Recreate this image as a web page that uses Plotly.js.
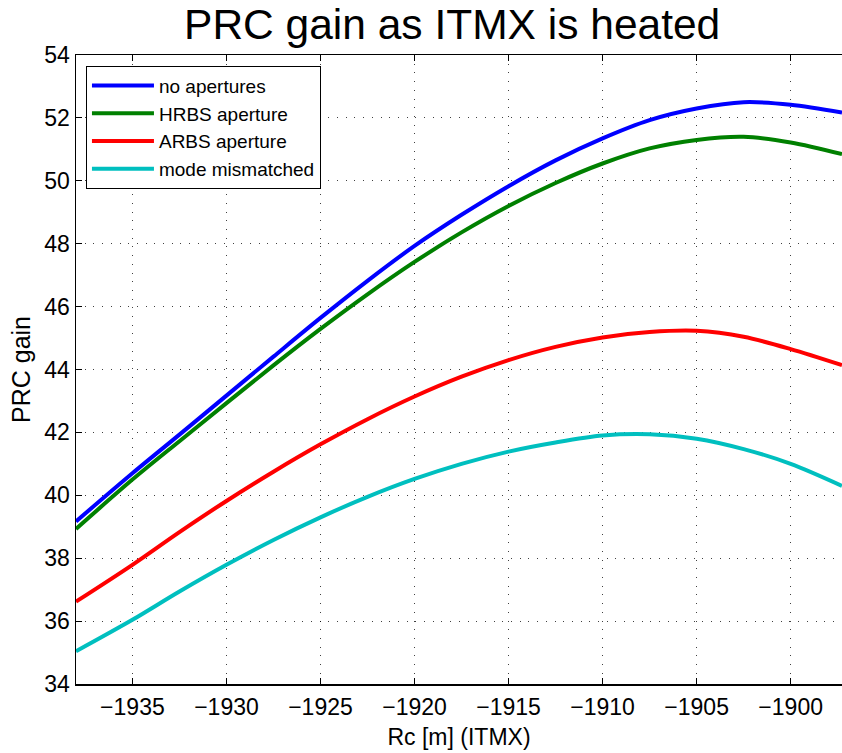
<!DOCTYPE html>
<html>
<head>
<meta charset="utf-8">
<script src="https://cdn.plot.ly/plotly-3.0.1.min.js"></script>
<style>
  html, body { margin: 0; padding: 0; background: #fff; }
  #chart { width: 842px; height: 753px; }
</style>
</head>
<body>
<div id="chart"></div>
<script>
// Radius of curvature of ITMX (m) as it is heated
const rc = [-1938, -1935, -1932.5, -1930, -1927.5, -1925, -1922.5, -1920, -1917.5,
            -1915, -1912.5, -1910, -1907.5, -1905, -1902.5, -1900, -1897.27];

// Power recycling cavity gain for each configuration
const noApertures   = [39.17, 40.70, 41.93, 43.17, 44.41, 45.64, 46.82, 47.93, 48.92,
                       49.83, 50.65, 51.35, 51.93, 52.30, 52.50, 52.42, 52.17];
const hrbsAperture  = [38.93, 40.50, 41.72, 42.93, 44.13, 45.29, 46.39, 47.42, 48.36,
                       49.20, 49.93, 50.55, 51.03, 51.30, 51.40, 51.22, 50.85];
const arbsAperture  = [36.62, 37.79, 38.83, 39.82, 40.75, 41.62, 42.42, 43.14, 43.77,
                       44.30, 44.72, 45.02, 45.19, 45.23, 45.04, 44.65, 44.14];
const modeMismatch  = [35.04, 36.04, 36.94, 37.79, 38.58, 39.30, 39.95, 40.52, 41.00,
                       41.39, 41.68, 41.90, 41.94, 41.80, 41.47, 41.00, 40.30];

const seriesNames  = ['no apertures', 'HRBS aperture', 'ARBS aperture', 'mode mismatched'];
const seriesColors = ['#0000ff', '#008000', '#ff0000', '#00bfbf'];
const seriesValues = [noApertures, hrbsAperture, arbsAperture, modeMismatch];

const xTicks = [-1935, -1930, -1925, -1920, -1915, -1910, -1905, -1900];
const yTicks = [34, 36, 38, 40, 42, 44, 46, 48, 50, 52, 54];

const FONT = 'Liberation Sans, Arial, Helvetica, sans-serif';

const traces = seriesValues.map((ys, i) => ({
  x: rc,
  y: ys,
  type: 'scatter',
  mode: 'lines',
  name: seriesNames[i],
  line: { color: seriesColors[i], width: 4, shape: 'spline', smoothing: 0.9 }
}));

const axisCommon = {
  showline: true,
  linecolor: '#000',
  linewidth: 1.5,
  ticks: 'inside',
  ticklen: 6,
  tickwidth: 1,
  tickcolor: '#000',
  showgrid: true,
  gridcolor: 'rgba(0,0,0,0.75)',
  gridwidth: 1,
  griddash: '1px,7.7px',
  zeroline: false,
  tickfont: { family: FONT, size: 23, color: '#000' }
};

const layout = {
  width: 842,
  height: 753,
  paper_bgcolor: '#fff',
  plot_bgcolor: '#fff',
  margin: { l: 76, r: 0, t: 55, b: 69 },
  title: {
    text: 'PRC gain as ITMX is heated',
    font: { family: FONT, size: 42.5, color: '#000' },
    x: 0.537, xanchor: 'center',
    y: 0.968, yanchor: 'middle'
  },
  xaxis: Object.assign({}, axisCommon, {
    range: [-1938, -1897.27],
    tickvals: xTicks,
    mirror: 'ticks',
    title: { text: 'Rc [m] (ITMX)', font: { family: FONT, size: 23, color: '#000' }, standoff: 10 },
    ticklabelstandoff: 2
  }),
  yaxis: Object.assign({}, axisCommon, {
    range: [34, 54],
    tickvals: yTicks,
    title: { text: 'PRC gain', font: { family: FONT, size: 25, color: '#000' }, standoff: 6 },
    ticklabelstandoff: 0
  }),
  showlegend: true,
  legend: {
    x: 0.013, y: 0.983,
    xanchor: 'left', yanchor: 'top',
    bgcolor: '#fff',
    bordercolor: '#000',
    borderwidth: 1,
    font: { family: FONT, size: 19, color: '#000' },
    itemwidth: 62
  }
};

Plotly.newPlot('chart', traces, layout, { displayModeBar: false, staticPlot: true });
</script>
</body>
</html>
